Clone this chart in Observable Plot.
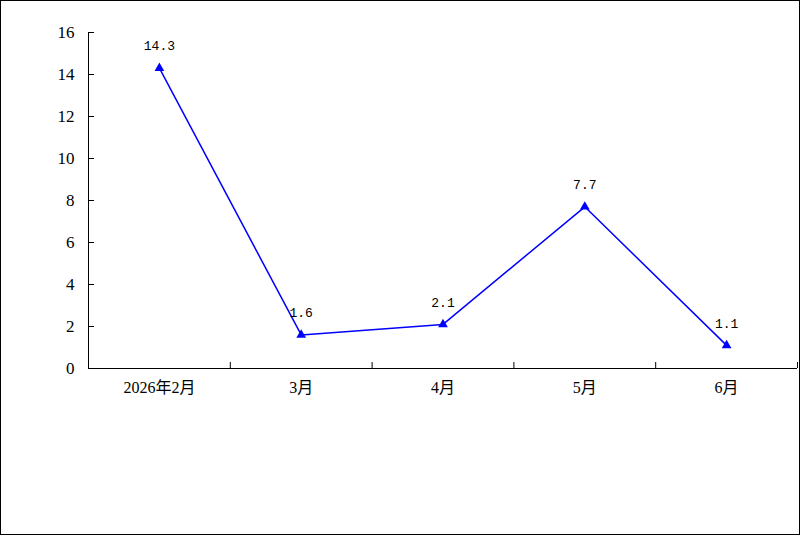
<!DOCTYPE html>
<html>
<head>
<meta charset="utf-8">
<script src="https://cdn.jsdelivr.net/npm/d3@7"></script>
<script src="https://cdn.jsdelivr.net/npm/@observablehq/plot@0.6"></script>
<style>
  html, body { margin: 0; padding: 0; background: #fff; }
  #wrap { position: relative; width: 800px; height: 535px; }
  #border { position: absolute; left: 0; top: 0; width: 800px; height: 535px; box-sizing: border-box; border: 1px solid #000; pointer-events: none; }
</style>
</head>
<body>
<div id="wrap"><div id="chart"></div><div id="border"></div></div>
<script>
const categories = ["2026年2月", "3月", "4月", "5月", "6月"];
const values = [14.3, 1.6, 2.1, 7.7, 1.1];
const yTicks = [0, 2, 4, 6, 8, 10, 12, 14, 16];

const data = categories.map((c, i) => ({ i, c, v: values[i] }));
const idx = categories.map((_, i) => i);
const bounds = categories.map((_, i) => i + 0.5);

const chart = Plot.plot({
  width: 800,
  height: 535,
  marginLeft: 88,
  marginTop: 32,
  marginRight: 3,
  marginBottom: 167,
  style: { background: "transparent", color: "#000" },
  x: { type: "linear", domain: [-0.5, categories.length - 0.5] },
  y: { domain: [0, 16] },
  marks: [
    Plot.axisY({ ticks: yTicks, tickSize: 0, tickPadding: 14, fontSize: 17, fontFamily: "'Liberation Serif', serif", label: null }),
    Plot.axisX({ ticks: idx, tickSize: 0, tickPadding: 13, fontSize: 16, fontFamily: "'Liberation Serif', 'Noto Sans CJK SC', serif", tickFormat: i => categories[i], label: null }),
    Plot.ruleX([-0.5], { stroke: "#000", strokeWidth: 1 }),
    Plot.ruleY([0], { stroke: "#000", strokeWidth: 1.2 }),
    Plot.ruleY(yTicks, { y: d => d, x1: -0.5, x2: -0.5, insetRight: -6, stroke: "#000" }),
    Plot.ruleX(bounds, { x: d => d, y1: 0, y2: 0, insetTop: -6, stroke: "#000" }),
    Plot.line(data, { x: "i", y: "v", stroke: "#0000ff", strokeWidth: 1.5 }),
    Plot.dot(data, { x: "i", y: "v", symbol: "triangle", r: 3.6, fill: "#0000ff", stroke: "none" }),
    Plot.text(data, { x: "i", y: "v", text: d => d.v.toFixed(1), dy: -22, fontSize: 13, fontFamily: "'Liberation Mono', monospace", fill: "#000" })
  ]
});
document.getElementById("chart").appendChild(chart);
</script>
</body>
</html>
